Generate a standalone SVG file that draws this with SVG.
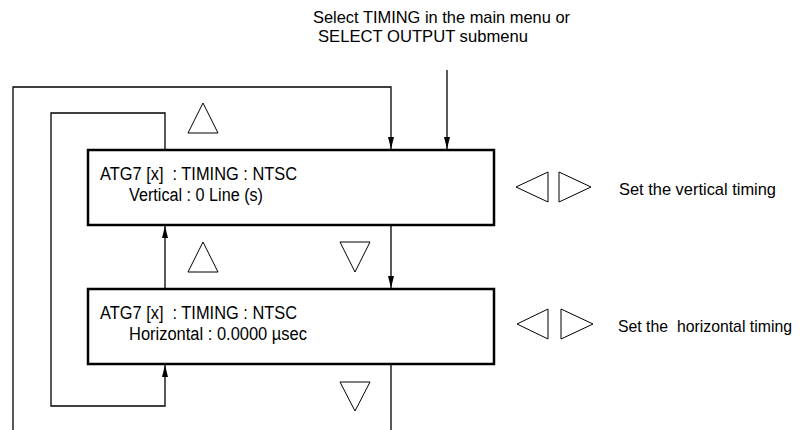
<svg xmlns="http://www.w3.org/2000/svg" width="804" height="430" viewBox="0 0 804 430">
<style>
text{font-family:"Liberation Sans",Arial,sans-serif;font-size:18px;fill:#000}
.sm{font-size:17px}
.box{fill:#fff;stroke:#000;stroke-width:2.5}
.ln{fill:none;stroke:#000;stroke-width:1.3}
.tri{fill:#fff;stroke:#000;stroke-width:1}
</style>
<defs>
<marker id="a" viewBox="0 0 12 8" refX="12" refY="4" markerWidth="12" markerHeight="8" markerUnits="userSpaceOnUse" orient="auto">
<path d="M0,1 L12,4 L0,7 Z" fill="#000"/>
</marker>
</defs>
<g id="connectors">
<polyline class="ln" points="13,430 13,87 391,87 391,149" marker-end="url(#a)"/>
<line class="ln" x1="447" y1="70" x2="447" y2="149" marker-end="url(#a)"/>
<polyline class="ln" points="165,150 165,113 51,113 51,406 165,406 165,365" marker-end="url(#a)"/>
<line class="ln" x1="165" y1="289" x2="165" y2="226" marker-end="url(#a)"/>
<line class="ln" x1="391" y1="225" x2="391" y2="288" marker-end="url(#a)"/>
<line class="ln" x1="391" y1="364" x2="391" y2="430"/>
</g>
<g id="input-label">
<text class="sm" x="313" y="23" textLength="257" lengthAdjust="spacingAndGlyphs">Select TIMING in the main menu or</text>
<text class="sm" x="318" y="42" textLength="210" lengthAdjust="spacingAndGlyphs">SELECT OUTPUT submenu</text>
</g>
<g id="node-vertical">
<rect class="box" x="88" y="150" width="406" height="75"/>
<text x="100" y="180" textLength="197" lengthAdjust="spacingAndGlyphs" xml:space="preserve">ATG7 [x]  : TIMING : NTSC</text>
<text x="129" y="201" textLength="134" lengthAdjust="spacingAndGlyphs">Vertical : 0 Line (s)</text>
</g>
<g id="node-horizontal">
<rect class="box" x="88" y="289" width="406" height="75"/>
<text x="100" y="319" textLength="197" lengthAdjust="spacingAndGlyphs" xml:space="preserve">ATG7 [x]  : TIMING : NTSC</text>
<text x="129" y="340" textLength="178" lengthAdjust="spacingAndGlyphs">Horizontal : 0.0000 µsec</text>
</g>
<g id="keys">
<polygon class="tri" points="203,103 218,133 188,133"/>
<polygon class="tri" points="203,242 218,272 188,272"/>
<polygon class="tri" points="340,242 370,242 355,272"/>
<polygon class="tri" points="340,382 370,382 355,411"/>
<polygon class="tri" points="516,187 548,172 548,202"/>
<polygon class="tri" points="559,172 559,202 591,187"/>
<polygon class="tri" points="517,324 548,309 548,339"/>
<polygon class="tri" points="561,309 561,339 593,324"/>
</g>
<g id="notes">
<text class="sm" x="619" y="195" textLength="157" lengthAdjust="spacingAndGlyphs">Set the vertical timing</text>
<text class="sm" x="618" y="332" textLength="174" lengthAdjust="spacingAndGlyphs" xml:space="preserve">Set the  horizontal timing</text>
</g>
</svg>
